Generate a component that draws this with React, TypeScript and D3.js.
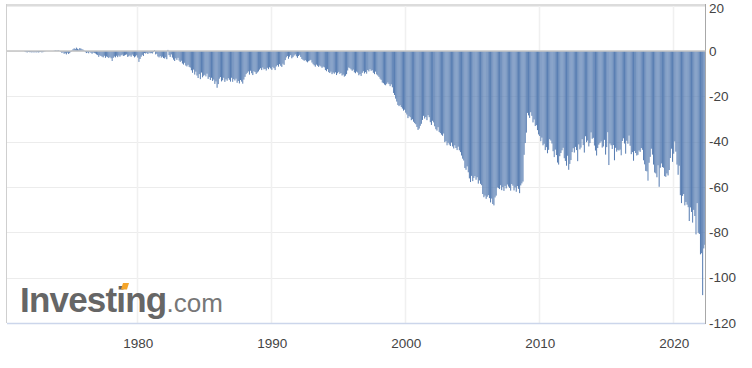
import React from 'react'
import * as d3 from 'd3'

// monthly US trade balance, billions USD, first value = Aug 1971
const startYear = 1971
const startMonth = 7

const balance1970s = [
  -0.3, -0.5, -0.6, -0.4, -0.5,
  -0.5, -0.6, -0.5, -0.6, -0.5, -0.6, -0.5, -0.6, -0.5, -0.4, -0.6, -0.5,
  -0.2, -0.1, 0.0, 0.0, 0.0, 0.0, 0.0, 0.0, 0.0, 0.1, 0.3, 0.2,
  0.2, 0.3, 0.1, -0.3, -0.8, -0.6, -1.2, -1.0, -1.5, -0.7, -1.3, -0.9,
  -0.4, 0.3, 0.8, 1.2, 0.9, 1.5, 1.0, 0.7, 1.3, 1.1, 0.8, 0.6,
  0.2, -0.5, -0.9, -0.6, -1.0, -0.4, -0.8, -1.2, -0.7, -0.9, -1.1, -1.5,
  -1.8, -2.6, -1.9, -2.2, -2.5, -2.8, -2.1, -3.0, -2.4, -2.7, -3.1, -2.6,
  -3.2, -4.4, -3.0, -2.4, -2.8, -2.1, -2.7, -2.0, -2.5, -1.9, -1.6, -2.2,
  -2.0, -1.7, -1.5, -2.6, -2.3, -1.9, -2.5, -1.6, -2.2, -2.8, -2.4, -1.9,
]
const balance1980s = [
  -2.9, -4.8, -3.5, -2.5, -1.7, -2.2, -0.9, -1.1, -0.8, -1.3, -0.7, -1.0,
  -0.9, -1.1, -0.5, 0.4, -1.5, -1.2, -2.4, -2.8, -2.2, -2.9, -2.5, -3.1,
  -3.3, -2.7, -3.6, 0.5, -1.8, -2.6, -1.5, -2.9, -3.8, -4.4, -3.2, -3.9,
  -3.0, -4.2, -4.8, -4.3, -5.5, -6.0, -5.2, -6.4, -6.8, -6.1, -7.0, -7.3,
  -8.5, -9.6, -8.2, -10.4, -9.1, -10.8, -11.9, -10.2, -12.4, -9.5, -11.6, -10.9,
  -10.5, -11.2, -10.0, -12.3, -11.5, -12.8, -11.8, -13.2, -12.6, -14.5, -13.4, -16.2,
  -14.6, -12.2, -11.5, -13.4, -12.9, -11.8, -13.6, -12.5, -13.1, -12.0, -12.7, -13.5,
  -11.8, -13.6, -12.4, -13.0, -12.2, -14.0, -13.2, -14.3, -12.8, -13.5, -14.4, -12.6,
  -11.4, -10.2, -9.6, -9.0, -10.4, -8.7, -9.8, -10.6, -8.9, -9.3, -10.1, -9.5,
  -9.0, -8.2, -7.6, -8.4, -7.3, -8.1, -7.9, -8.6, -7.4, -8.0, -7.2, -7.7,
]
const balance1990s = [
  -8.3, -7.0, -7.6, -8.4, -6.8, -6.2, -6.9, -5.8, -6.5, -7.0, -5.6, -6.1,
  -4.0, -2.8, -2.2, -3.4, -2.5, -1.8, -3.2, -2.7, -2.0, -1.5, -2.3, -3.0,
  -2.2, -1.7, -2.6, -3.5, -3.9, -4.3, -4.0, -4.6, -5.0, -4.5, -4.2, -3.9,
  -5.1, -5.8, -6.3, -6.9, -6.0, -6.5, -7.0, -6.4, -6.8, -7.4, -6.9, -7.2,
  -8.4, -8.9, -8.0, -9.3, -9.7, -9.1, -10.2, -9.5, -10.0, -9.4, -10.6, -9.8,
  -9.2, -10.1, -9.7, -10.8, -10.4, -11.3, -10.9, -10.2, -8.6, -7.3, -7.6, -8.1,
  -8.7, -8.2, -9.4, -9.8, -9.1, -9.5, -10.7, -10.2, -11.0, -9.6, -8.9, -9.9,
  -9.3, -10.0, -8.4, -9.0, -8.0, -8.7, -8.5, -9.6, -10.2, -9.1, -10.3, -10.8,
  -11.4, -12.2, -12.7, -13.9, -14.2, -14.8, -15.1, -14.5, -13.9, -14.6, -15.5, -14.7,
  -16.0, -18.5, -19.4, -21.0, -22.3, -23.8, -24.3, -23.9, -24.7, -25.4, -26.3, -25.9,
]
const balance2000s = [
  -27.2, -28.0, -29.6, -28.7, -29.2, -30.5, -30.1, -31.2, -31.8, -32.3, -33.5, -34.8,
  -34.2, -33.0, -32.1, -30.4, -28.6, -29.8, -29.1, -30.5, -28.3, -29.2, -31.4, -32.6,
  -30.8, -31.5, -33.2, -34.5, -35.1, -33.6, -35.7, -36.2, -36.9, -37.4, -36.4, -40.2,
  -39.8, -41.6, -40.5, -41.3, -41.9, -40.4, -42.1, -43.0, -41.6, -42.8, -43.7, -42.2,
  -43.8, -44.6, -46.1, -47.5, -48.3, -51.6, -52.4, -50.9, -53.5, -56.2, -57.8, -55.1,
  -57.4, -56.0, -55.2, -56.8, -55.7, -58.5, -57.1, -58.6, -59.2, -63.1, -64.5, -63.8,
  -65.2, -64.3, -63.6, -64.9, -66.8, -65.1, -67.5, -68.1, -64.6, -63.8, -60.2, -60.5,
  -60.9, -59.2, -61.4, -60.0, -61.7, -59.5, -60.6, -58.9, -59.8, -60.4, -61.6, -58.7,
  -59.4, -61.5, -60.2, -62.1, -59.6, -60.8, -62.7, -59.3, -58.4, -57.6, -45.8, -40.6,
  -36.0, -27.3, -28.4, -29.5, -27.0, -28.6, -31.5, -30.2, -33.1, -32.7, -34.9, -36.8,
]
const balance2010s = [
  -37.5, -39.8, -38.2, -41.6, -40.9, -43.7, -42.4, -45.1, -43.6, -38.9, -39.5, -40.8,
  -44.2, -46.8, -43.5, -45.9, -49.2, -50.1, -46.4, -45.0, -43.8, -42.7, -47.3, -48.5,
  -50.6, -46.2, -52.4, -49.8, -48.1, -44.6, -42.9, -44.8, -42.3, -43.7, -48.6, -41.2,
  -43.4, -42.6, -38.9, -41.5, -44.8, -37.6, -40.2, -39.5, -42.1, -40.6, -35.9, -38.7,
  -38.3, -41.7, -43.9, -46.1, -42.8, -41.3, -40.5, -39.9, -42.6, -42.1, -39.2, -45.7,
  -42.4, -35.8, -50.3, -40.8, -41.6, -43.2, -41.5, -48.2, -42.7, -44.4, -43.6, -43.9,
  -43.5, -46.0, -39.7, -38.5, -40.8, -45.3, -39.6, -40.9, -37.3, -41.8, -45.5, -44.6,
  -48.4, -44.1, -45.0, -46.1, -45.8, -43.9, -44.5, -42.8, -43.6, -48.2, -50.0, -52.9,
  -53.1, -57.2, -49.3, -46.7, -43.1, -45.7, -50.1, -53.6, -54.0, -55.7, -50.4, -59.9,
  -51.5, -49.6, -51.2, -51.5, -55.2, -55.5, -54.0, -54.9, -52.5, -47.2, -43.1, -48.9,
]
const balance2020s = [
  -45.3, -39.9, -44.4, -50.1, -54.6, -50.6, -63.6, -67.1, -63.9, -63.1, -68.1, -66.6,
  -67.8, -68.9, -75.0, -69.0, -71.0, -75.7, -70.1, -72.8, -80.9, -67.1, -80.2, -80.7,
  -89.7, -89.2, -107.7, -87.1, -85.5,
]

const yTicks = [20, 0, -20, -40, -60, -80, -100, -120]
const xTickYears = [1980, 1990, 2000, 2010, 2020]

const W = 752
const H = 368

const App = () => {
  const ref = React.useRef<SVGSVGElement>(null)

  React.useEffect(() => {
    const values = [
      ...balance1970s, ...balance1980s, ...balance1990s,
      ...balance2000s, ...balance2010s, ...balance2020s,
    ]
    const data = values.map((v, i) => ({
      date: new Date(startYear, startMonth + i, 1),
      next: new Date(startYear, startMonth + i + 1, 1),
      v,
    }))

    const left = 7
    const right = 705.5
    const top = 5.7
    const bottom = 323

    const svg = d3.select(ref.current)
    svg.selectAll('*').remove()

    const x = d3
      .scaleTime()
      .domain([new Date(1970, 3, 10), new Date(2022, 5, 1)])
      .range([left, right])
    const y = d3.scaleLinear().domain([-120, 20]).range([bottom, top])

    const font = 'Arial, "Liberation Sans", sans-serif'

    // grid
    svg.append('g')
      .selectAll('line')
      .data(yTicks)
      .enter()
      .append('line')
      .attr('x1', left)
      .attr('x2', right)
      .attr('y1', (d) => Math.round(y(d)) + 0.5)
      .attr('y2', (d) => Math.round(y(d)) + 0.5)
      .attr('stroke', '#ececec')
      .attr('stroke-width', 1)

    svg.append('g')
      .selectAll('line')
      .data(xTickYears)
      .enter()
      .append('line')
      .attr('x1', (d) => Math.round(x(new Date(d, 0, 1))) + 0.5)
      .attr('x2', (d) => Math.round(x(new Date(d, 0, 1))) + 0.5)
      .attr('y1', top)
      .attr('y2', bottom)
      .attr('stroke', '#f0f0f0')
      .attr('stroke-width', 1.5)

    // watermark
    const wm = svg.append('g')
    const wmText = wm.append('text')
      .attr('x', 20)
      .attr('y', 312)
      .style('font-family', font)
    wmText.append('tspan')
      .text('Investing')
      .style('font-size', '35px')
      .style('font-weight', 'bold')
      .style('letter-spacing', '-0.8px')
      .attr('fill', '#666')
    wmText.append('tspan')
      .text('.com')
      .style('font-size', '26px')
      .attr('fill', '#777')
    wm.append('path')
      .attr('d', 'M121,289.5 L123,283 L129,283 L127,289.5 Z')
      .attr('fill', '#f5a52a')

    // bars
    svg.append('g')
      .selectAll('rect')
      .data(data)
      .enter()
      .append('rect')
      .attr('x', (d) => x(d.date))
      .attr('width', (d) => (x(d.next) - x(d.date)) * 0.92)
      .attr('y', (d) => (d.v >= 0 ? y(d.v) : y(0)))
      .attr('height', (d) => Math.abs(y(d.v) - y(0)))
      .attr('fill', '#5a7fb3')

    // frame
    svg.append('line')
      .attr('x1', left).attr('x2', right)
      .attr('y1', 5).attr('y2', 5)
      .attr('stroke', '#dcdcdc').attr('stroke-width', 2)
    svg.append('line')
      .attr('x1', left - 0.5).attr('x2', left - 0.5)
      .attr('y1', 4).attr('y2', bottom)
      .attr('stroke', '#cfcfcf').attr('stroke-width', 1)
    svg.append('line')
      .attr('x1', left).attr('x2', right)
      .attr('y1', bottom + 0.5).attr('y2', bottom + 0.5)
      .attr('stroke', '#ccd6eb').attr('stroke-width', 1.5)
    svg.append('line')
      .attr('x1', right).attr('x2', right)
      .attr('y1', 4).attr('y2', bottom + 1)
      .attr('stroke', '#a8a8a8').attr('stroke-width', 1)
    svg.append('line')
      .attr('x1', left).attr('x2', right)
      .attr('y1', y(0)).attr('y2', y(0))
      .attr('stroke', '#c4c4c4').attr('stroke-width', 1.5)

    // y labels (top one kept inside the picture)
    svg.append('g')
      .selectAll('text')
      .data(yTicks)
      .enter()
      .append('text')
      .attr('x', 709)
      .attr('y', (d) => Math.max(y(d) + 4.7, 12.5))
      .style('font-family', font)
      .style('font-size', '13.5px')
      .attr('fill', '#444')
      .text((d) => d)

    // x labels
    svg.append('g')
      .selectAll('text')
      .data(xTickYears)
      .enter()
      .append('text')
      .attr('x', (d) => x(new Date(d, 0, 1)) + 1)
      .attr('y', 348)
      .attr('text-anchor', 'middle')
      .style('font-family', font)
      .style('font-size', '13.5px')
      .attr('fill', '#444')
      .text((d) => d)
  }, [])

  return (
    <svg
      ref={ref}
      width={W}
      height={H}
      style={{ position: 'absolute', left: 0, top: 0, background: '#fff' }}
    ></svg>
  )
}

export default App
